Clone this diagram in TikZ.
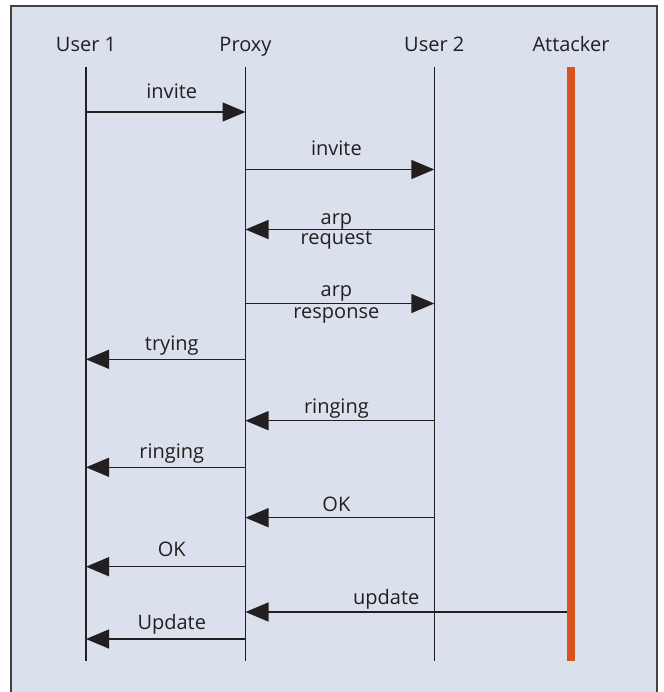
\documentclass[tikz,border=0pt]{standalone}
\usepackage{fontspec}
\setmainfont{Open Sans}
\usetikzlibrary{arrows.meta}
\usetikzlibrary{calc}
\usepackage{xcolor}

\definecolor{panel}{HTML}{DAE0EC}
\definecolor{ink}{HTML}{231F20}
\definecolor{attack}{HTML}{D9531E}

\tikzset{
 lifeline/.style={ink, line width=1.3pt},
 msg/.style={ink, line width=1.4pt, -{Triangle[length=23pt,width=19pt]}},
 lbl/.style={font=\fontsize{20}{22}\selectfont, text=ink, inner sep=0pt, anchor=base},
 head/.style={font=\fontsize{20}{22}\selectfont, text=ink, inner sep=0pt, anchor=base}
}

\begin{document}
\begin{tikzpicture}[x=1pt,y=-1pt]
\useasboundingbox (0,0) rectangle (663,692);
\fill[white] (0,0) rectangle (663,692);
\filldraw[fill=panel, draw=ink!85, line width=2pt] (11,6) rectangle (657,700);

% participants
\foreach \n/\x/\t in {u1/86/User 1, px/245.5/Proxy, u2/434.3/User 2, at/571/Attacker} {
 \node[head] (\n) at (\x,52) {\t};
}
\foreach \n in {u1, px, u2} {
 \draw[lifeline] (\n |- 0,67) -- (\n |- 0,661);
}

% messages
\draw[msg] (u1 |- 0,112) -- (px |- 0,112) node[lbl, midway, xshift=6pt, yshift=13pt] {invite};
\draw[msg] (px |- 0,169.5) -- (u2 |- 0,169.5) node[lbl, midway, xshift=-3.5pt, yshift=13.5pt] {invite};
\draw[msg] (u2 |- 0,229.5) -- (px |- 0,229.5) node[lbl, midway, xshift=-3.5pt, yshift=5pt] {arp}
 node[lbl, midway, xshift=-3.5pt, yshift=-15.5pt] {request};
\draw[msg] (px |- 0,303.5) -- (u2 |- 0,303.5) node[lbl, midway, xshift=-3.5pt, yshift=6.8pt] {arp}
 node[lbl, midway, xshift=-3.5pt, yshift=-14.8pt] {response};
\draw[msg] (px |- 0,359.3) -- (u1 |- 0,359.3) node[lbl, midway, xshift=6pt, yshift=8.6pt] {trying};
\draw[msg] (u2 |- 0,420.7) -- (px |- 0,420.7) node[lbl, midway, xshift=-3.5pt, yshift=7.4pt] {ringing};
\draw[msg] (px |- 0,467.3) -- (u1 |- 0,467.3) node[lbl, midway, xshift=6pt, yshift=9.3pt] {ringing};
\draw[msg] (u2 |- 0,517.7) -- (px |- 0,517.7) node[lbl, midway, xshift=-3.5pt, yshift=6.7pt] {OK};
\draw[msg] (px |- 0,566.7) -- (u1 |- 0,566.7) node[lbl, midway, xshift=6pt, yshift=10pt] {OK};
\draw[msg] (at |- 0,612) -- (px |- 0,612) node[lbl, midway, xshift=-22pt, yshift=7.5pt] {update};
\draw[msg] (px |- 0,639) -- (u1 |- 0,639) node[lbl, midway, xshift=6pt, yshift=10pt] {Update};

% attacker lifeline on top
\draw[attack, line width=8pt] (at |- 0,67) -- (at |- 0,661);
\end{tikzpicture}
\end{document}
